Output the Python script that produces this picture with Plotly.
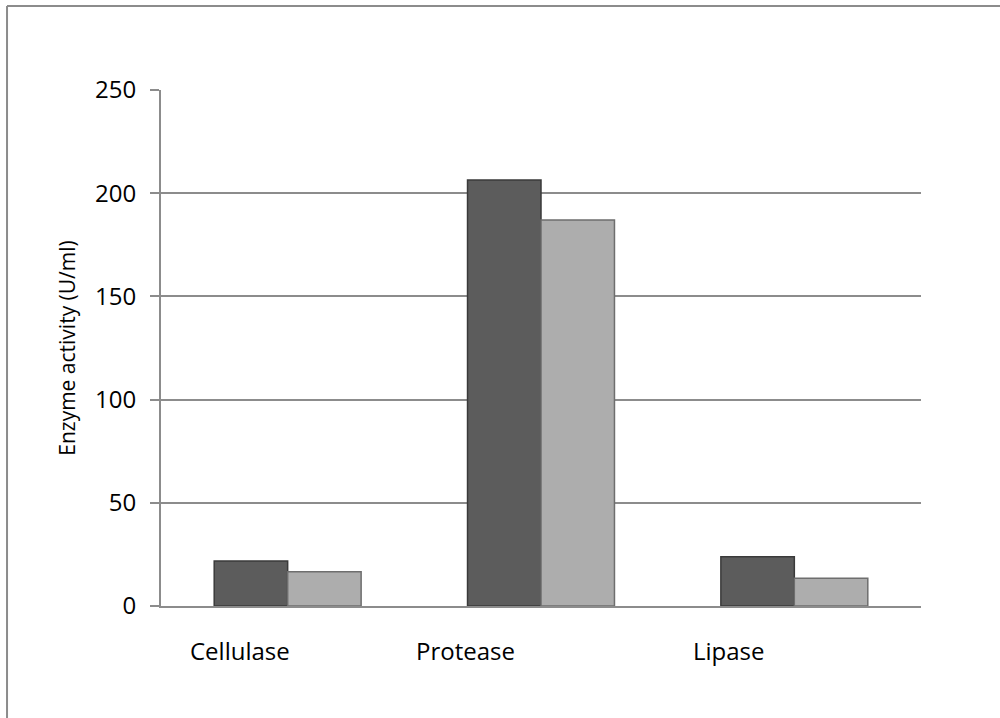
import plotly.graph_objects as go

# Enzyme activity per enzyme, two samples
categories = ["Cellulase", "Protease", "Lipase"]
series_dark = [21.8, 206.4, 23.9]
series_light = [16.6, 187.0, 13.4]
y_ticks = [0, 50, 100, 150, 200, 250]

# horizontal placement of the category captions (pixels relative to the group centre)
label_shift_px = [-48, -76, -65]

FONT = "Open Sans"
GRID = "#8c8c8c"

fig = go.Figure()
fig.add_trace(go.Bar(
    x=categories, y=series_dark, name="Sample 1",
    marker=dict(color="#5c5c5c", line=dict(color="#3a3a3a", width=1.5)),
))
fig.add_trace(go.Bar(
    x=categories, y=series_light, name="Sample 2",
    marker=dict(color="#adadad", line=dict(color="#6e6e6e", width=1.5)),
))

for cat, dx in zip(categories, label_shift_px):
    fig.add_annotation(
        x=cat, xref="x", y=0, yref="paper", yshift=-44, xshift=dx,
        text=cat, showarrow=False, yanchor="middle", xanchor="center",
        font=dict(family=FONT, size=24, color="#000000"),
    )

# outer frame lines (left and top)
fig.add_shape(type="line", xref="paper", yref="paper",
              x0=-0.2026, x1=-0.2026, y0=-0.22, y1=1.1628,
              line=dict(color=GRID, width=2))
fig.add_shape(type="line", xref="paper", yref="paper",
              x0=-0.2026, x1=1.11, y0=1.1628, y1=1.1628,
              line=dict(color=GRID, width=2))

fig.update_layout(
    width=1000, height=718,
    margin=dict(l=161, r=79, t=90, b=112),
    paper_bgcolor="white", plot_bgcolor="white",
    barmode="group", bargap=0.42, bargroupgap=0,
    showlegend=False,
    font=dict(family=FONT, size=24, color="#000000"),
    xaxis=dict(showticklabels=False, ticks="", showgrid=False,
               showline=True, linecolor=GRID, linewidth=2),
    yaxis=dict(range=[0, 250], tickvals=y_ticks, showgrid=True,
               gridcolor=GRID, gridwidth=1.5, showline=True,
               linecolor=GRID, linewidth=2, ticks="outside", ticklen=9,
               tickcolor=GRID, tickwidth=2, ticklabelstandoff=9,
               tickfont=dict(family=FONT, size=24),
               zeroline=False,
               title=dict(text="Enzyme activity (U/ml)", standoff=14,
                          font=dict(family=FONT, size=21))),
)

fig.write_html("out.html")
